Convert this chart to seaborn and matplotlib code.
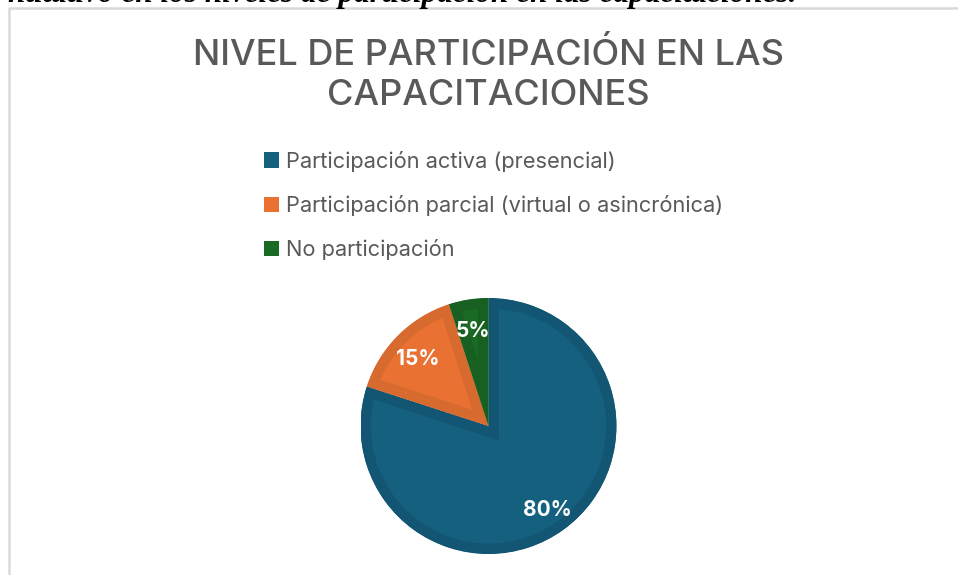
import matplotlib
matplotlib.use("Agg")
import matplotlib.pyplot as plt
import seaborn as sns
from matplotlib.patches import Patch
from matplotlib.lines import Line2D

# data
categorias = ["Participación activa (presencial)",
              "Participación parcial (virtual o asincrónica)",
              "No participación"]
valores = [80, 15, 5]
titulo = "NIVEL DE PARTICIPACIÓN EN LAS\nCAPACITACIONES"
texto_superior = "ntitativo en los niveles de participación en las capacitaciones."

colores = ["#16607F", "#E97132", "#196B24"]
bordes = ["#135673", "#D76A2E", "#185F22"]

sns.set_theme(style="white")
plt.rcParams["font.family"] = ["Inter", "DejaVu Sans"]

W, H = 958, 575
fig = plt.figure(figsize=(W / 100, H / 100), dpi=100)
fig.patch.set_facecolor("white")

# pie axes: center (488.5, 426), radius 128 px
r = 128
cx, cy = 488.5, 426
ax = fig.add_axes([(cx - r) / W, (H - cy - r) / H, 2 * r / W, 2 * r / H])
wedges, texts, autotexts = ax.pie(
    valores, colors=colores, startangle=90, counterclock=False,
    autopct="%1.0f%%", pctdistance=0.78,
    wedgeprops=dict(linewidth=0),
    textprops=dict(color="white", fontsize=15, fontweight="bold"))
for w, b in zip(wedges, bordes):
    # inner border: stroke clipped to the wedge itself
    w.set_edgecolor(b)
    w.set_linewidth(15)
    w.set_clip_path(w)
    w.set_clip_on(True)
for t in autotexts:
    x, y = t.get_position()
    t.set_position((x, y - 0.025))
ax.set_xlim(-1, 1)
ax.set_ylim(-1, 1)
ax.set_aspect("equal")
ax.axis("off")

# title
fig.text(cx / W, 1 - 75 / H, titulo, ha="center", va="center",
         fontsize=26, color="#595959", fontweight="medium", linespacing=1.25)

# legend
handles = [Patch(facecolor=c, edgecolor="none") for c in colores]
leg = fig.legend(handles, categorias, loc="upper left",
                 bbox_to_anchor=(255 / W, 1 - 142 / H), frameon=False,
                 fontsize=15.7, labelcolor="#595959", handlelength=0.7,
                 handleheight=0.7, handletextpad=0.3, labelspacing=1.07,
                 borderaxespad=0)

# chart frame
fig.add_artist(Line2D([8.5 / W, 8.5 / W, 1], [0, 1 - 7.5 / H, 1 - 7.5 / H],
                      color="#D9D9D9", linewidth=1.8))

# cut-off caption text at the top
fig.text(797 / W, 1 - 2 / H, texto_superior, ha="right", va="baseline",
         fontsize=22.5, color="black", fontstyle="italic", fontweight="bold",
         family=["Liberation Serif"])

fig.savefig("out.png", dpi=100)
